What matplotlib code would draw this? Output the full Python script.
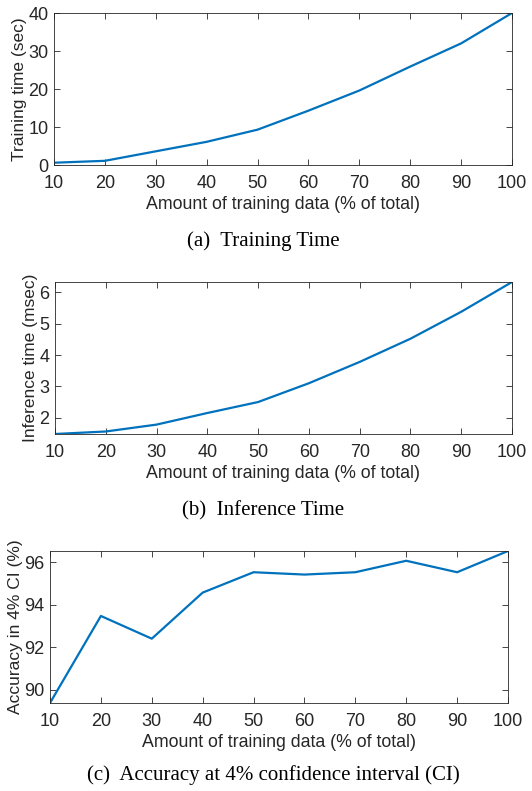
import matplotlib
matplotlib.use("Agg")
import matplotlib.pyplot as plt

# amount of training data (% of total)
pct = [10, 20, 30, 40, 50, 60, 70, 80, 90, 100]
train_sec = [0.6, 1.1, 3.6, 6.1, 9.3, 14.3, 19.6, 25.9, 32.0, 40.0]
infer_ms = [1.48, 1.56, 1.78, 2.15, 2.50, 3.10, 3.78, 4.52, 5.38, 6.33]
acc_ci4 = [89.37, 93.47, 92.40, 94.57, 95.53, 95.42, 95.53, 96.07, 95.53, 96.53]

BLUE, INK = "#0072BD", "#262626"
W, H = 532, 791

plt.rcParams["font.family"] = ["Liberation Sans", "DejaVu Sans"]
fig = plt.figure(figsize=(W / 100, H / 100), dpi=100)


def px_axes(left, top, right, bottom):
    return fig.add_axes([left / W, 1 - bottom / H, (right - left) / W, (bottom - top) / H])


def style(ax, ylab, yticks, ylim):
    ax.set_xlim(10, 100)
    ax.set_ylim(*ylim)
    ax.set_xticks(pct)
    ax.set_yticks(yticks)
    ax.tick_params(direction="in", top=True, right=True, length=4, width=0.6,
                   labelsize=13, colors=INK)
    ax.tick_params(axis="x", pad=7)
    ax.tick_params(axis="y", pad=4)
    for s in ax.spines.values():
        s.set_linewidth(0.6)
        s.set_color(INK)
    ax.set_xlabel("Amount of training data (% of total)", fontsize=12.8, color=INK, labelpad=3)
    ax.set_ylabel(ylab, fontsize=12.5, color=INK, labelpad=1)


ax1 = px_axes(54, 13, 512, 165)
ax1.plot(pct, train_sec, color=BLUE, lw=1.6)
style(ax1, "Training time (sec)", [0, 10, 20, 30, 40], (0, 40))

ax2 = px_axes(55, 282, 512, 434)
ax2.plot(pct, infer_ms, color=BLUE, lw=1.6)
style(ax2, "Inference time (msec)", [2, 3, 4, 5, 6], (1.48, 6.33))

ax3 = px_axes(50, 551, 508, 703)
ax3.plot(pct, acc_ci4, color=BLUE, lw=1.6)
style(ax3, "Accuracy in 4% CI (%)", [90, 92, 94, 96], (89.37, 96.53))

cap = dict(ha="center", va="center", fontsize=15, family="Liberation Serif", color="black")
fig.text(263 / W, 1 - 241 / H, "(a)  Training Time", **cap)
fig.text(263 / W, 1 - 511 / H, "(b)  Inference Time", **cap)
fig.text(273 / W, 1 - 775 / H, "(c)  Accuracy at 4% confidence interval (CI)", **cap)

fig.savefig("out.png", dpi=100, facecolor="white")
